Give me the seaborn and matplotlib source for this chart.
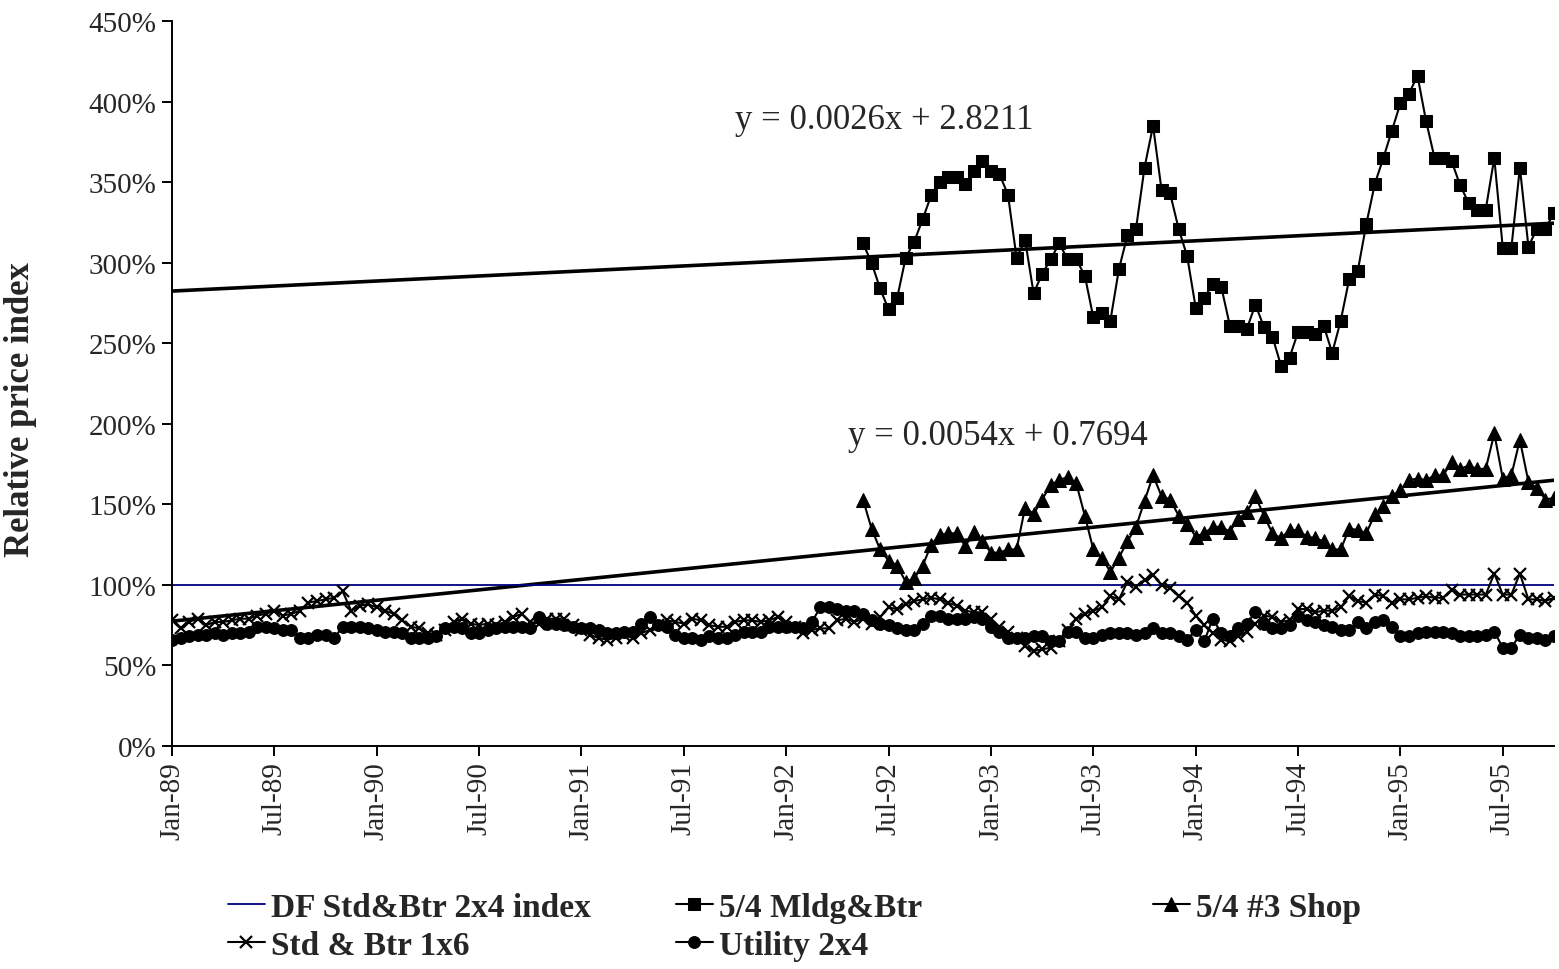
import numpy as np
import pandas as pd
import matplotlib
matplotlib.use("Agg")
import matplotlib.pyplot as plt
import seaborn as sns

# half-monthly observations, Jan-89 .. Oct-95 (values in % of DF Std&Btr 2x4)
tick_labels = ["Jan-89", "Jul-89", "Jan-90", "Jul-90", "Jan-91", "Jul-91", "Jan-92",
               "Jul-92", "Jan-93", "Jul-93", "Jan-94", "Jul-94", "Jan-95", "Jul-95"]

std_1x6 = [78, 73, 77, 79, 75, 77, 77, 78, 79, 79, 81, 82, 84, 81, 82, 84, 89, 90, 91, 92,
           96, 84, 87, 88, 86, 84, 82,
           78, 74, 73, 70, 69, 72, 77, 79, 76, 75, 76, 75, 77, 80, 82, 77, 76, 79, 79, 79,
           75, 72, 69, 67, 66, 67, 69,
           67, 70, 72, 75, 78, 77, 76, 79, 78, 75, 74, 74, 77, 78, 78, 77, 78, 80, 77, 74,
           70, 72, 73, 73, 78, 79, 77,
           79, 76, 80, 86, 85, 88, 90, 91, 92, 91, 89, 87, 84, 83, 83, 79, 74, 71, 67, 62,
           59, 60, 61, 65, 72, 79, 82,
           84, 86, 93, 91, 102, 99, 103, 106, 100, 98, 93, 89, 81, 75, 70, 66, 65, 68, 71,
           76, 81, 80, 77, 78, 85, 85,
           83, 84, 84, 86, 93, 90, 89, 94, 93, 89, 91, 91, 92, 93, 92, 92, 97, 94, 94, 94,
           94, 107, 94, 94, 107, 91, 91, 90, 92]

utility_2x4 = [66, 67, 68, 69, 69, 70, 69, 70, 70, 71, 74, 74, 73, 72, 72, 67, 67, 69, 69, 67,
               74, 74, 74, 73, 72, 71, 71,
               70, 67, 67, 67, 68, 73, 74, 73, 70, 70, 72, 73, 74, 74, 74, 73, 80, 76, 76, 75,
               74, 73, 73, 72, 70, 70, 71,
               71, 76, 80, 75, 74, 69, 67, 67, 66, 68, 67, 67, 69, 71, 71, 71, 74, 74, 74, 74,
               73, 77, 86, 86, 85, 84, 84,
               82, 78, 76, 75, 73, 72, 72, 76, 81, 81, 79, 79, 79, 80, 79, 74, 71, 67, 67, 67,
               68, 68, 65, 65, 71, 71, 67,
               67, 69, 70, 70, 70, 69, 70, 73, 70, 70, 68, 66, 72, 65, 79, 70, 68, 73, 76, 83,
               76, 73, 73, 75, 81, 78,
               77, 75, 74, 72, 72, 77, 73, 77, 78, 74, 68, 68, 70, 71, 71, 71, 70, 68, 68, 68,
               69, 71, 61, 61, 69, 67, 67, 66, 68]

# these two series start later (first point = half-month #81)
late_start = 81
mldg_btr = [312, 300, 284, 271, 278, 303, 313, 327, 342, 350, 353, 353, 349, 357, 363, 357,
            355, 342, 303, 314, 281, 293, 302, 312, 302,
            302, 292, 266, 269, 264, 296, 317, 321, 359, 385, 345, 343, 321, 304, 272, 278,
            287, 285, 261, 261, 259, 274, 260, 254, 236, 241, 257, 257,
            256, 261, 244, 264, 290, 295, 324, 349, 365, 382, 399, 405, 416, 388, 365, 365,
            363, 348, 337, 333, 333, 365, 309, 309, 359, 310, 321, 321, 331]

shop_3 = [153, 135, 122, 115, 112, 102, 104, 112, 125, 131, 132, 132, 124, 133, 127, 120,
          120, 122, 122, 148, 144, 153, 162, 165, 167,
          163, 143, 122, 117, 108, 117, 127, 136, 152, 168, 155, 153, 143, 138, 130, 132,
          136, 136, 133, 141, 145, 155, 143, 132, 129, 134, 134, 130,
          129, 127, 122, 122, 135, 134, 132, 144, 149, 155, 159, 165, 166, 165, 168, 168,
          176, 172, 174, 172, 172, 194, 166, 168, 190, 164, 160, 153, 154]

df_index = 100

# Excel linear trendlines (slope, intercept), x = 1..n categories
mldg_trend = (0.0026, 2.8211)
shop_trend = (0.0054, 0.7694)

n = len(std_1x6)
x_all = np.arange(n)
x_late = np.arange(late_start, late_start + len(mldg_btr))
cat = x_all + 1

sns.set_style("ticks")
plt.rcParams["font.family"] = ["Liberation Serif", "DejaVu Serif"]

fig = plt.figure(figsize=(15.59, 9.70), dpi=100)
ax = fig.add_axes([172 / 1559, 1 - 747 / 970, (1554 - 172) / 1559, (747 - 22) / 970])

lw = 1.5
sns.lineplot(x=x_all, y=np.full(n, df_index), ax=ax, color="#000080", lw=1.3,
             label="DF Std&Btr 2x4 index")
sns.lineplot(x=x_late, y=mldg_btr, ax=ax, color="black", lw=lw, marker="s", ms=8,
             mec="black", mfc="black", label="5/4 Mldg&Btr")
sns.lineplot(x=x_late, y=shop_3, ax=ax, color="black", lw=lw, marker="^", ms=10,
             mec="black", mfc="black", label="5/4 #3 Shop")
sns.lineplot(x=x_all, y=std_1x6, ax=ax, color="black", lw=lw, marker="x", ms=9, mew=1.6,
             mec="black", label="Std & Btr 1x6")
sns.lineplot(x=x_all, y=utility_2x4, ax=ax, color="black", lw=lw, marker="o", ms=8.5,
             mec="black", mfc="black", label="Utility 2x4")

# trendlines (extended back to Jan-89)
ax.plot(x_all, (mldg_trend[0] * cat + mldg_trend[1]) * 100, color="black", lw=2.6, zorder=1)
ax.plot(x_all, (shop_trend[0] * cat + shop_trend[1]) * 100, color="black", lw=2.6, zorder=1)

ax.text(66, 389, f"y = {mldg_trend[0]:.4f}x + {mldg_trend[1]:.4f}", fontsize=25,
        va="center", ha="left")
ax.text(79.3, 192.5, f"y = {shop_trend[0]:.4f}x + {shop_trend[1]:.4f}", fontsize=25,
        va="center", ha="left")

ax.set_xlim(0, n - 1)
ax.set_ylim(0, 450)
ax.set_yticks(np.arange(0, 451, 50))
ax.set_yticklabels([f"{v}%" for v in range(0, 451, 50)], fontsize=21)
ax.set_xticks(np.arange(0, n, 12))
ax.set_xticklabels(tick_labels, rotation=90, fontsize=21)
ax.tick_params(axis="both", direction="out", length=7, width=1.4, color="black", pad=4)
ax.set_ylabel("Relative price index", fontsize=25, fontweight="bold")
ax.yaxis.set_label_coords(-0.098, 0.466)
ax.set_xlabel("")
sns.despine(ax=ax)
for s in ["left", "bottom"]:
    ax.spines[s].set_linewidth(1.4)
    ax.spines[s].set_color("black")

handles, labels = ax.get_legend_handles_labels()
ax.get_legend().remove()
lut = dict(zip(labels, handles))
cols = [(["DF Std&Btr 2x4 index", "Std & Btr 1x6"], 228),
        (["5/4 Mldg&Btr", "Utility 2x4"], 676),
        (["5/4 #3 Shop"], 1153)]
for names, px in cols:
    fig.legend([lut[k] for k in names], names, loc="upper left",
               bbox_to_anchor=(px / 1559, 1 - 893 / 970), frameon=False,
               borderpad=0, borderaxespad=0, handlelength=1.1, handletextpad=0.2,
               labelspacing=0.2, prop={"weight": "bold", "size": 24})

fig.savefig("out.png", dpi=100)
